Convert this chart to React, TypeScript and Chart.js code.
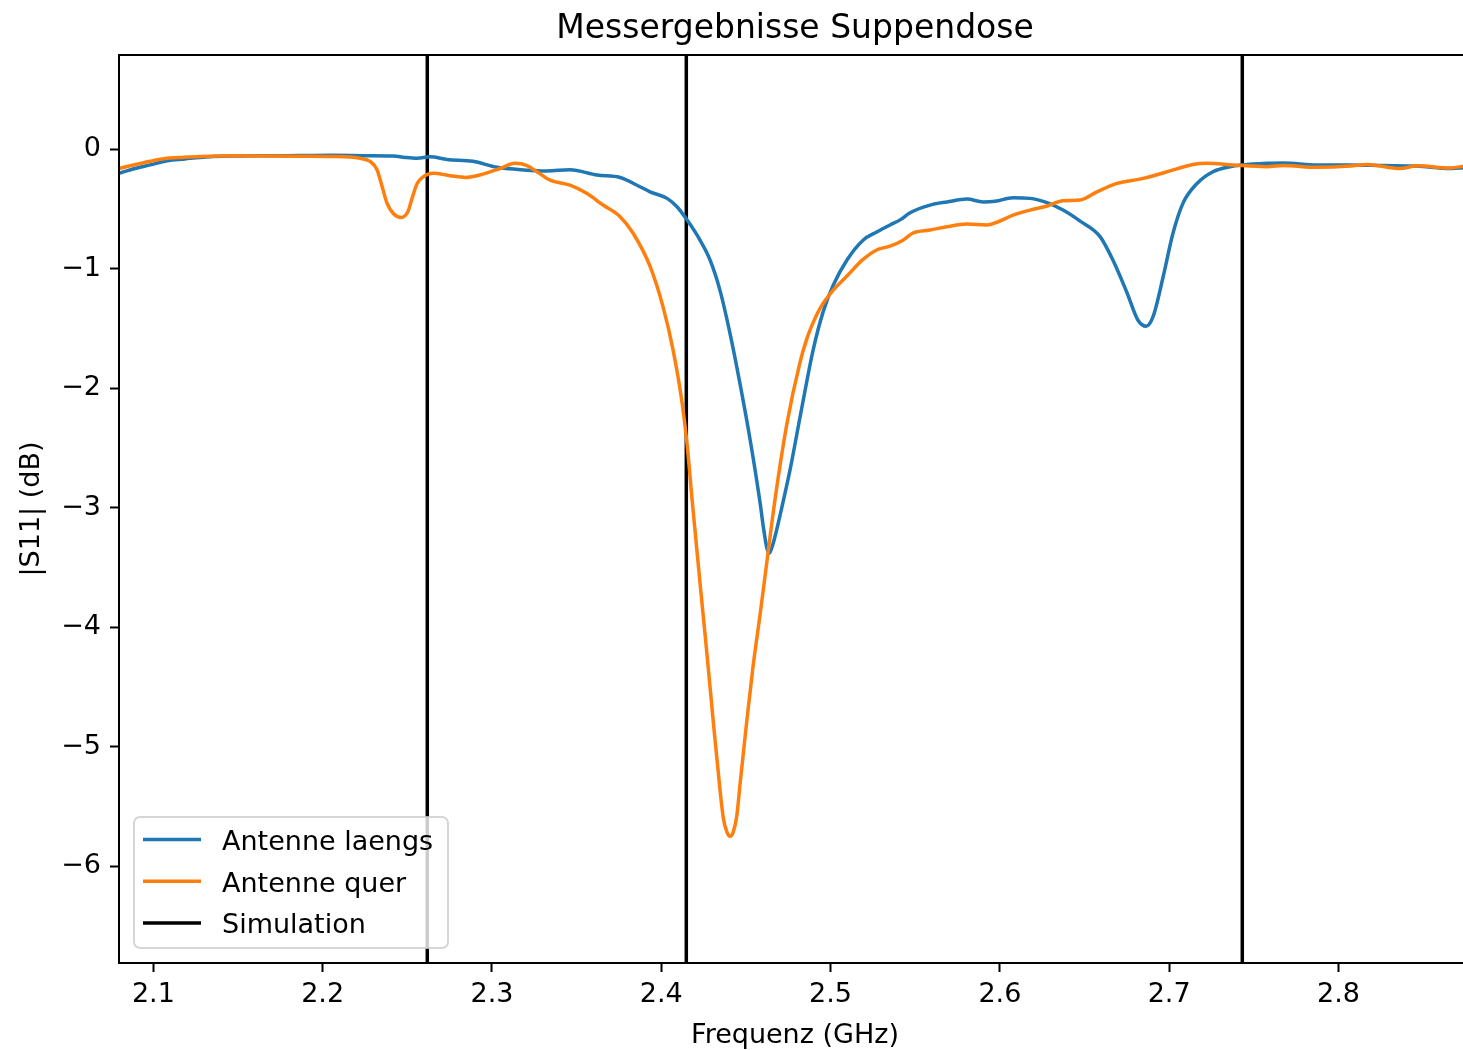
import { useEffect, useRef } from "react";
import { Chart, registerables } from "chart.js";

Chart.register(...registerables);

const chartTitle = "Messergebnisse Suppendose";
const xAxisLabel = "Frequenz (GHz)";
const yAxisLabel = "|S11| (dB)";

const seriesLabels = ["Antenne laengs", "Antenne quer", "Simulation"];
const seriesColors = ["#1f77b4", "#ff7f0e", "#000000"];

const freqLaengs = [
  2.0797, 2.0892, 2.0981, 2.1081, 2.1187, 2.1276, 2.1471, 2.1672, 2.1867, 2.2061,
  2.2262, 2.2416, 2.2487, 2.2558, 2.2634, 2.2735, 2.2888, 2.303, 2.3148, 2.3325,
  2.3461, 2.3621, 2.3757, 2.3857, 2.3934, 2.4034, 2.4093, 2.4152, 2.4229, 2.4288,
  2.4347, 2.4406, 2.4465, 2.4525, 2.4584, 2.4603, 2.4623, 2.4638, 2.4654, 2.4672,
  2.4702, 2.4761, 2.482, 2.4897, 2.4956, 2.5015, 2.5097, 2.5192, 2.5275, 2.5351,
  2.5411, 2.547, 2.5588, 2.5688, 2.5806, 2.5901, 2.5972, 2.6078, 2.6178, 2.6279,
  2.6373, 2.6474, 2.6592, 2.6669, 2.6751, 2.6816, 2.6864, 2.6905, 2.6964, 2.7023,
  2.7082, 2.7165, 2.7259, 2.736, 2.7431, 2.7578, 2.7673, 2.7874, 2.8069, 2.8263,
  2.8464, 2.8659, 2.8783,
];
const s11Laengs = [
  -0.2, -0.16, -0.13, -0.095, -0.08, -0.067, -0.056, -0.053, -0.052, -0.05,
  -0.053, -0.055, -0.068, -0.075, -0.062, -0.084, -0.1, -0.15, -0.167, -0.18,
  -0.17, -0.215, -0.235, -0.3, -0.355, -0.41, -0.48, -0.59, -0.76, -0.925,
  -1.18, -1.54, -1.96, -2.43, -2.96, -3.16, -3.33, -3.38, -3.33, -3.24,
  -3.06, -2.68, -2.24, -1.68, -1.36, -1.14, -0.926, -0.76, -0.69, -0.633,
  -0.59, -0.53, -0.466, -0.44, -0.416, -0.44, -0.435, -0.405, -0.41, -0.446,
  -0.508, -0.6, -0.73, -0.93, -1.2, -1.43, -1.48, -1.4, -1.07, -0.7,
  -0.45, -0.285, -0.187, -0.145, -0.131, -0.117, -0.113, -0.131, -0.13, -0.135,
  -0.14, -0.16, -0.15,
];

const freqQuer = [
  2.0797, 2.0981, 2.1081, 2.1175, 2.1276, 2.1471, 2.1672, 2.1867, 2.2061, 2.2221,
  2.228, 2.2321, 2.2351, 2.238, 2.2416, 2.2463, 2.2504, 2.2528, 2.2558, 2.2593,
  2.2652, 2.2753, 2.2841, 2.2947, 2.3048, 2.3136, 2.3207, 2.3266, 2.3343, 2.3461,
  2.3562, 2.3656, 2.3757, 2.3833, 2.3934, 2.4011, 2.407, 2.4123, 2.4152, 2.4182,
  2.4229, 2.4271, 2.4306, 2.4347, 2.4367, 2.4387, 2.4406, 2.4426, 2.4446, 2.4465,
  2.4507, 2.4542, 2.4584, 2.4625, 2.4672, 2.4743, 2.482, 2.4861, 2.4897, 2.4938,
  2.5015, 2.5097, 2.5192, 2.5275, 2.5351, 2.5428, 2.5487, 2.5588, 2.5688, 2.5806,
  2.5924, 2.5983, 2.6078, 2.6178, 2.6279, 2.6373, 2.6474, 2.6574, 2.6692, 2.6846,
  2.6988, 2.7141, 2.7224, 2.7377, 2.7578, 2.7673, 2.7874, 2.8069, 2.8169, 2.8364,
  2.8464, 2.8659, 2.8783,
];
const s11Quer = [
  -0.16, -0.1, -0.075, -0.067, -0.06, -0.053, -0.056, -0.058, -0.06, -0.075,
  -0.1, -0.17, -0.31, -0.45, -0.535, -0.57, -0.52, -0.41, -0.285, -0.23,
  -0.2, -0.22, -0.235, -0.207, -0.16, -0.117, -0.135, -0.187, -0.257, -0.3,
  -0.37, -0.466, -0.563, -0.7, -0.98, -1.32, -1.68, -2.12, -2.46, -2.93,
  -3.63, -4.24, -4.77, -5.36, -5.6, -5.71, -5.75, -5.71, -5.58, -5.32,
  -4.76, -4.33, -3.89, -3.44, -2.93, -2.29, -1.78, -1.58, -1.45, -1.33,
  -1.18, -1.06, -0.92, -0.84, -0.81, -0.76, -0.7, -0.675, -0.647, -0.625,
  -0.633, -0.61, -0.55, -0.508, -0.474, -0.43, -0.424, -0.355, -0.285, -0.243,
  -0.187, -0.126, -0.117, -0.131, -0.145, -0.135, -0.15, -0.14, -0.126, -0.16,
  -0.138, -0.155, -0.13,
];

const simulationFreqs = [2.2618, 2.4148, 2.7432];

const xMin = 2.0797;
const xMax = 2.8783;
const yMin = -6.81;
const yMax = 0.79;
const xTickStep = 0.1;
const yTickStep = 1;

const FONT = '"DejaVu Sans", "Liberation Sans", sans-serif';

const spinesPlugin = {
  id: "spines",
  afterDatasetsDraw(chart: any) {
    const { ctx, chartArea } = chart;
    ctx.save();
    ctx.strokeStyle = "#000";
    ctx.lineWidth = 2;
    ctx.strokeRect(chartArea.left, chartArea.top, chartArea.right - chartArea.left, chartArea.bottom - chartArea.top);
    ctx.restore();
  },
};

const legendPlugin = {
  id: "boxLegend",
  afterDraw(chart: any) {
    const { ctx, chartArea } = chart;
    const bx = chartArea.left + 15;
    const by = chartArea.bottom - 146;
    const bw = 314;
    const bh = 131;
    ctx.save();
    ctx.beginPath();
    ctx.roundRect(bx, by, bw, bh, 6);
    ctx.fillStyle = "rgba(255,255,255,0.8)";
    ctx.fill();
    ctx.strokeStyle = "rgba(204,204,204,0.8)";
    ctx.lineWidth = 2;
    ctx.stroke();
    ctx.font = `27px ${FONT}`;
    ctx.textBaseline = "alphabetic";
    ctx.textAlign = "left";
    seriesLabels.forEach((label, i) => {
      const cy = by + 22.5 + i * 41.7;
      ctx.beginPath();
      ctx.strokeStyle = seriesColors[i];
      ctx.lineWidth = 3.5;
      ctx.moveTo(bx + 9, cy);
      ctx.lineTo(bx + 67, cy);
      ctx.stroke();
      ctx.fillStyle = "#000";
      ctx.fillText(label, bx + 88, cy + 10.5);
    });
    ctx.restore();
  },
};

const titlePlugin = {
  id: "plotTitle",
  afterDraw(chart: any) {
    const { ctx, chartArea } = chart;
    ctx.save();
    ctx.font = `33px ${FONT}`;
    ctx.fillStyle = "#000";
    ctx.textAlign = "center";
    ctx.textBaseline = "alphabetic";
    ctx.fillText(chartTitle, (chartArea.left + chartArea.right) / 2, chartArea.top - 17);
    ctx.restore();
  },
};

export default function App() {
  const canvasRef = useRef<HTMLCanvasElement | null>(null);

  useEffect(() => {
    const canvas = canvasRef.current;
    if (!canvas) return;

    const laengsData = freqLaengs.map((f, i) => ({ x: f, y: s11Laengs[i] }));
    const querData = freqQuer.map((f, i) => ({ x: f, y: s11Quer[i] }));
    const simData: { x: number; y: number | null }[] = [];
    simulationFreqs.forEach((f) => {
      simData.push({ x: f, y: yMin });
      simData.push({ x: f, y: yMax });
      simData.push({ x: f, y: null });
    });

    const chart = new Chart(canvas, {
      type: "line",
      data: {
        datasets: [
          {
            label: seriesLabels[0],
            data: laengsData,
            borderColor: seriesColors[0],
            borderWidth: 3.5,
            pointRadius: 0,
            cubicInterpolationMode: "monotone",
            order: 1,
          },
          {
            label: seriesLabels[1],
            data: querData,
            borderColor: seriesColors[1],
            borderWidth: 3.5,
            pointRadius: 0,
            cubicInterpolationMode: "monotone",
            order: 0,
          },
          {
            label: seriesLabels[2],
            data: simData as any,
            borderColor: seriesColors[2],
            borderWidth: 3.5,
            pointRadius: 0,
            tension: 0,
            spanGaps: false,
            order: 2,
          },
        ],
      },
      options: {
        responsive: false,
        animation: false,
        devicePixelRatio: 1,
        layout: { padding: { top: 55, left: 0, right: 0, bottom: 0 } },
        plugins: {
          legend: { display: false },
          tooltip: { enabled: false },
          title: { display: false },
        },
        scales: {
          x: {
            type: "linear",
            min: xMin,
            max: xMax,
            afterFit(scale: any) {
              scale.height = 87;
            },
            ticks: {
              stepSize: xTickStep,
              includeBounds: false,
              color: "#000",
              font: { family: FONT, size: 27 },
              padding: 7,
              maxRotation: 0,
              callback: (v: any) => Number(v).toFixed(1),
            },
            grid: {
              display: true,
              drawOnChartArea: false,
              drawTicks: true,
              tickLength: 9,
              tickWidth: 2,
              tickColor: "#000",
            },
            border: { display: false },
            title: {
              display: true,
              text: xAxisLabel,
              color: "#000",
              font: { family: FONT, size: 27 },
              padding: { top: 0, bottom: -2 },
            },
          },
          y: {
            type: "linear",
            min: yMin,
            max: yMax,
            afterFit(scale: any) {
              scale.width = 119;
            },
            ticks: {
              stepSize: yTickStep,
              includeBounds: false,
              color: "#000",
              font: { family: FONT, size: 27 },
              padding: 9,
              callback: (v: any) => {
                const n = Math.round(Number(v));
                return n < 0 ? "\u2212" + Math.abs(n) : String(n);
              },
            },
            grid: {
              display: true,
              drawOnChartArea: false,
              drawTicks: true,
              tickLength: 9,
              tickWidth: 2,
              tickColor: "#000",
            },
            border: { display: false },
            title: {
              display: true,
              text: yAxisLabel,
              color: "#000",
              font: { family: FONT, size: 27 },
              padding: { top: 16, bottom: 0 },
            },
          },
        },
      },
      plugins: [spinesPlugin, titlePlugin, legendPlugin],
    });

    return () => chart.destroy();
  }, []);

  return (
    <div
      style={{
        position: "absolute",
        left: 0,
        top: 0,
        width: 1463,
        height: 1050,
        overflow: "hidden",
        background: "#fff",
      }}
    >
      <canvas ref={canvasRef} width={1471} height={1050} style={{ display: "block" }} />
    </div>
  );
}
